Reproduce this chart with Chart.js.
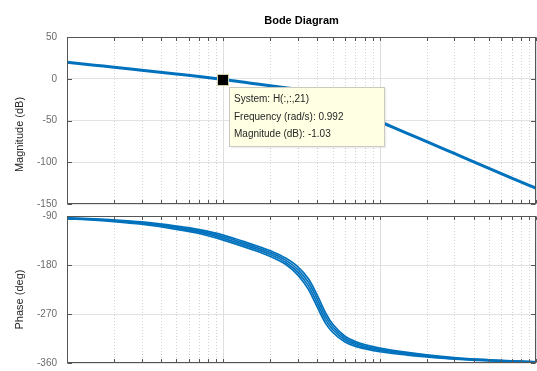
<!DOCTYPE html>
<html><head><meta charset="utf-8">
<script src="https://cdn.jsdelivr.net/npm/chart.js@4"></script>
<style>
html,body{margin:0;padding:0;background:#fff;overflow:hidden;width:537px;height:371px;}
#wrapTop{position:absolute;left:0;top:0;width:537px;height:215px;}
#wrapBot{position:absolute;left:0;top:205px;width:537px;height:195px;}
canvas{display:block;}
</style></head><body>
<div id="wrapTop"><canvas id="cTop" width="537" height="215"></canvas></div>
<div id="wrapBot"><canvas id="cBot" width="537" height="195"></canvas></div>
<script>
const chartTitle = 'Bode Diagram';
const magLabel = 'Magnitude (dB)';
const phaseLabel = 'Phase (deg)';
const freqs = [0.1, 0.15, 0.2, 0.3, 0.5, 0.7, 1, 1.5, 2, 2.5, 3, 3.5, 4, 4.5, 5, 6, 7, 8, 10, 15, 20, 30, 50, 70, 100];
const magnitudeDb = [19.8, 16.3, 13.9, 10.3, 5.7, 2.6, -1.0, -5.3, -8.4, -10.7, -12.6, -14.6, -17.4, -20.6, -24.0, -30.6, -36.6, -42.0, -51.0, -65.3, -75.3, -89.5, -107.4, -119.0, -131.0];
const phaseA = [-95.2, -97.7, -100.2, -105.1, -114.5, -122.1, -134.2, -150.8, -164.3, -178.7, -198.5, -224.8, -258.0, -286.8, -303.5, -321.3, -329.5, -333.9, -339.3, -345.4, -349.0, -353.0, -356.1, -357.6, -358.9];
const phaseB = [-94.6, -96.9, -99.2, -103.7, -112.5, -119.7, -131.1, -147.6, -160.8, -174.9, -193.5, -218.3, -250.7, -280.3, -298.5, -317.8, -326.5, -331.3, -337.1, -343.8, -347.7, -352.0, -355.4, -357.1, -358.5];
const phaseC = [-94.0, -96.1, -98.2, -102.3, -110.5, -117.3, -127.9, -144.4, -157.3, -171.1, -188.5, -211.8, -243.4, -273.8, -293.5, -314.3, -323.5, -328.7, -334.9, -342.2, -346.4, -351.0, -354.7, -356.6, -358.1];
const phaseD = [-93.4, -95.3, -97.2, -100.9, -108.5, -114.9, -124.8, -141.2, -153.8, -167.3, -183.5, -205.3, -236.1, -267.3, -288.5, -310.8, -320.5, -326.1, -332.7, -340.6, -345.1, -350.0, -354.0, -356.1, -357.7];
const magTicks = [50, 0, -50, -100, -150];
const phaseTicks = [-90, -180, -270, -360];
const decadeTicks = [0.1, 1, 10, 100];
const decadeLabels = ['10\u207B\u00B9', '10\u2070', '10\u00B9', '10\u00B2'];
const tipSystem = 'H(:,:,21)';
const tipFreq = 0.992;
const tipMag = -1.03;

const BLUE = '#0072BD';
const FONT = "'Liberation Sans', Arial, Helvetica, sans-serif";
const TICKC = '#6b6b6b';
const AXC = '#555555';

const pts = ys => freqs.map((f, i) => ({x: f, y: ys[i]}));
const minorVals = [];
for (let d = 0; d < decadeTicks.length - 1; d++) for (let k = 2; k <= 9; k++) minorVals.push(decadeTicks[d] * k);

function framePlugin(yTicks, yLabel, labelOffset, title) {
  return {
    id: 'frame',
    beforeDatasetsDraw(chart) {
      const {ctx, chartArea: a, scales: {x}} = chart;
      ctx.save();
      ctx.lineWidth = 1;
      ctx.strokeStyle = '#d2d2d2';
      ctx.setLineDash([1, 2]);
      minorVals.forEach(v => {
        const px = Math.round(x.getPixelForValue(v)) + 0.5;
        ctx.beginPath(); ctx.moveTo(px, a.top); ctx.lineTo(px, a.bottom); ctx.stroke();
      });
      ctx.setLineDash([]);
      ctx.strokeStyle = '#dedede';
      decadeTicks.forEach(v => {
        const px = Math.round(x.getPixelForValue(v)) + 0.5;
        ctx.beginPath(); ctx.moveTo(px, a.top); ctx.lineTo(px, a.bottom); ctx.stroke();
      });
      ctx.restore();
    },
    afterDatasetsDraw(chart) {
      const {ctx, chartArea: a, scales: {x, y}} = chart;
      ctx.save();
      ctx.lineWidth = 1;
      ctx.strokeStyle = AXC;
      const L = Math.round(a.left) + 0.5, R = Math.round(a.right) - 0.5;
      const T = Math.round(a.top) + 0.5, B = Math.round(a.bottom) - 0.5;
      const tl = 3.5;
      minorVals.concat(decadeTicks).forEach(v => {
        const px = Math.round(x.getPixelForValue(v)) + 0.5;
        ctx.beginPath(); ctx.moveTo(px, B); ctx.lineTo(px, B - tl); ctx.stroke();
        ctx.beginPath(); ctx.moveTo(px, T); ctx.lineTo(px, T + tl); ctx.stroke();
      });
      yTicks.forEach(v => {
        const py = Math.round(y.getPixelForValue(v)) + 0.5;
        ctx.beginPath(); ctx.moveTo(L, py); ctx.lineTo(L + 4.5, py); ctx.stroke();
        ctx.beginPath(); ctx.moveTo(R, py); ctx.lineTo(R - 4.5, py); ctx.stroke();
      });
      ctx.strokeRect(L, T, R - L, B - T);
      ctx.fillStyle = '#262626';
      ctx.font = '11px ' + FONT;
      ctx.textAlign = 'center';
      ctx.textBaseline = 'middle';
      ctx.save();
      ctx.translate(20, (a.top + a.bottom) / 2 + labelOffset);
      ctx.rotate(-Math.PI / 2);
      ctx.fillText(yLabel, 0, 0);
      ctx.restore();
      if (title) {
        ctx.fillStyle = '#000';
        ctx.font = 'bold 11px ' + FONT;
        ctx.fillText(title, (a.left + a.right) / 2, 20.5);
      }
      ctx.restore();
    }
  };
}

const datatipPlugin = {
  id: 'datatip',
  afterDraw(chart) {
    const {ctx, scales: {x, y}} = chart;
    const mx = x.getPixelForValue(tipFreq), my = y.getPixelForValue(tipMag);
    ctx.save();
    const bx = Math.round(mx) + 6.5, by = Math.round(my) + 7.5, bw = 155, bh = 59;
    ctx.fillStyle = 'rgba(0,0,0,0.06)';
    ctx.fillRect(bx + 1, by + 1, bw + 1, bh + 1);
    ctx.fillStyle = '#ffffe4';
    ctx.fillRect(bx, by, bw, bh);
    ctx.strokeStyle = '#c9c9c0';
    ctx.lineWidth = 1;
    ctx.strokeRect(bx, by, bw, bh);
    ctx.fillStyle = '#262626';
    ctx.font = '10px ' + FONT;
    ctx.textBaseline = 'middle';
    ctx.textAlign = 'left';
    ctx.fillText('System: ' + tipSystem, bx + 4.5, by + 12);
    ctx.fillText('Frequency (rad/s): ' + tipFreq.toFixed(3), bx + 4.5, by + 30);
    ctx.fillText('Magnitude (dB): ' + tipMag.toFixed(2), bx + 4.5, by + 47);
    ctx.fillStyle = '#000';
    ctx.fillRect(Math.round(mx) - 5, Math.round(my) - 5, 10, 10);
    ctx.strokeStyle = '#d2d0a8';
    ctx.strokeRect(Math.round(mx) - 5.5, Math.round(my) - 5.5, 11, 11);
    ctx.restore();
  }
};

function yScale(min, max, step) {
  return {
    type: 'linear', position: 'left', min: min, max: max,
    ticks: {stepSize: step, color: TICKC, font: {family: FONT, size: 10}, padding: 10},
    grid: {color: '#e2e2e2', drawTicks: false, lineWidth: 1},
    border: {display: false},
    afterFit: s => { s.width = 67; s.paddingTop = 0; s.paddingBottom = 0; }
  };
}

Chart.defaults.font.family = FONT;

new Chart(document.getElementById('cTop'), {
  type: 'line',
  data: {datasets: [{data: pts(magnitudeDb), borderColor: BLUE, borderWidth: 3, pointRadius: 0, cubicInterpolationMode: 'monotone', clip: 0}]},
  options: {
    responsive: false, animation: false, devicePixelRatio: 1,
    layout: {autoPadding: false, padding: {left: 0, right: 1, top: 37, bottom: 11}},
    plugins: {legend: {display: false}, tooltip: {enabled: false}, title: {display: false}},
    scales: {
      x: {type: 'logarithmic', min: 0.1, max: 100, display: false},
      y: yScale(-150, 50, 50)
    }
  },
  plugins: [framePlugin(magTicks, magLabel, 14, chartTitle), datatipPlugin]
});

const phaseSets = [phaseA, phaseB, phaseC, phaseD].map(p => ({data: pts(p), borderColor: BLUE, borderWidth: 1.7, pointRadius: 0, cubicInterpolationMode: 'monotone', clip: 0}));

new Chart(document.getElementById('cBot'), {
  type: 'line',
  data: {datasets: phaseSets},
  options: {
    responsive: false, animation: false, devicePixelRatio: 1,
    layout: {autoPadding: false, padding: {left: 0, right: 1, top: 11, bottom: 0}},
    plugins: {legend: {display: false}, tooltip: {enabled: false}, title: {display: false}},
    scales: {
      x: {
        type: 'logarithmic', min: 0.1, max: 100,
        grid: {display: false}, border: {display: false},
        ticks: {color: TICKC, font: {family: FONT, size: 10}, padding: 3, autoSkip: false, maxRotation: 0,
          callback: (v, i) => decadeLabels[i]},
        afterBuildTicks: s => { s.ticks = decadeTicks.map(v => ({value: v})); },
        afterFit: s => { s.height = 37; s.paddingLeft = 0; s.paddingRight = 0; }
      },
      y: yScale(-360, -90, 90)
    }
  },
  plugins: [framePlugin(phaseTicks, phaseLabel, 10, null)]
});
</script>
</body></html>
